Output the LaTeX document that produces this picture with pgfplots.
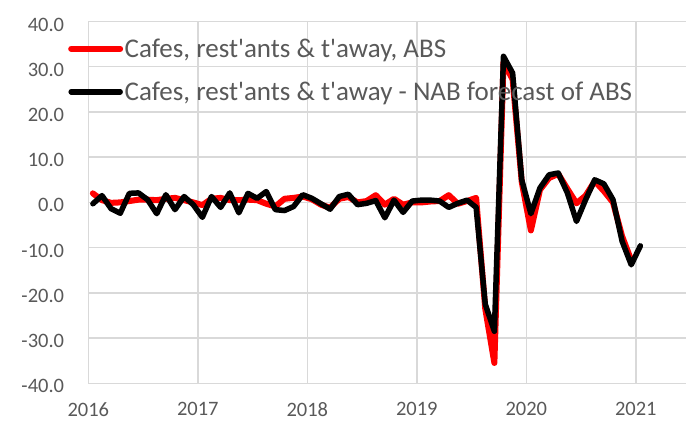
\documentclass[border=0pt]{standalone}
\usepackage{fontspec}
\setmainfont{Carlito}
\newfontfamily\carl{Carlito}
\usepackage{pgfplots}
\usepackage{pgfplotstable}
\pgfplotsset{compat=1.18}
\definecolor{txt}{HTML}{595959}
\definecolor{grd}{HTML}{D9D9D9}
\pgfplotstableread{
i v
0 2.0
1 0.5
2 -0.1
3 0.0
4 0.3
5 0.6
6 0.6
7 0.5
8 0.8
9 1.0
10 0.5
11 0.0
12 -0.6
13 0.8
14 1.0
15 0.5
16 0.5
17 0.6
18 0.5
19 -0.3
20 -0.9
21 0.8
22 1.0
23 1.3
24 0.7
25 -0.5
26 -1.2
27 0.8
28 1.2
29 0.0
30 0.3
31 1.6
32 -0.5
33 0.8
34 -0.5
35 0.0
36 0.0
37 0.2
38 0.3
39 1.6
40 -0.3
41 0.3
42 1.0
43 -23.5
44 -35.5
45 31.0
46 27.2
47 4.5
48 -6.2
49 2.8
50 5.4
51 6.3
52 3.0
53 -0.2
54 1.5
55 4.7
56 2.5
57 0.0
58 -7.5
59 -12.8
}\absdata
\pgfplotstableread{
i v
0 -0.3
1 1.5
2 -1.4
3 -2.4
4 2.0
5 2.1
6 0.6
7 -2.5
8 1.7
9 -1.6
10 1.3
11 -0.5
12 -3.3
13 1.3
14 -1.1
15 2.1
16 -2.3
17 2.0
18 0.9
19 2.4
20 -1.6
21 -1.8
22 -0.9
23 1.7
24 0.9
25 -0.3
26 -1.5
27 1.3
28 1.8
29 -0.5
30 -0.2
31 0.4
32 -3.4
33 0.5
34 -2.2
35 0.3
36 0.5
37 0.5
38 0.3
39 -1.1
40 -0.2
41 0.5
42 -1.1
43 -22.5
44 -28.5
45 32.3
46 28.6
47 5.0
48 -2.5
49 3.2
50 6.1
51 6.5
52 2.1
53 -4.2
54 0.6
55 5.0
56 4.1
57 0.6
58 -8.6
59 -13.8
60 -9.6
}\nabdata
\begin{document}
\begin{tikzpicture}
\begin{axis}[
  scale only axis, width=597.7bp, height=361.8bp,
  at={(0,0)}, anchor=south west,
  xmin=-0.5, xmax=65, ymin=-40, ymax=40,
  xtick={-0.5,11.5,23.5,35.5,47.5,59.5},
  xticklabels={2016,2017,2018,2019,2020,2021},
  ytick={-40,-30,...,40},
  /pgf/number format/assume math mode=true,
  yticklabel style={/pgf/number format/fixed, /pgf/number format/fixed zerofill, /pgf/number format/precision=1, xshift=-24bp, yshift=-3bp},
  tick label style={font=\carl\fontsize{20.5bp}{24bp}\selectfont, text=txt, inner sep=0pt},
  xticklabel style={yshift=-19bp},
  major tick length=0pt,
  grid=major, major grid style={grd, line width=1.5bp},
  axis line style={draw=none},
  legend cell align=left,
  legend style={at={(rel axis cs:-0.034,0.957)}, anchor=north west, draw=none, fill=none,
    font=\carl\fontsize{27bp}{30bp}\selectfont, text=txt, row sep=20bp, inner sep=0pt,
    nodes={inner sep=1.5bp}},
  legend image code/.code={\draw[#1] (0bp,0bp) -- (49bp,0bp);},
]
\addplot[red, line width=6bp, line join=round, line cap=round] table[x=i, y=v] {\absdata};
\addlegendentry{Cafes, rest'ants \& t'away, ABS}
\addplot[black, line width=5.5bp, line join=round, line cap=round] table[x=i, y=v] {\nabdata};
\addlegendentry{Cafes, rest'ants \& t'away - NAB forecast of ABS}
\end{axis}
\pgfresetboundingbox
\path[use as bounding box] (-88.3bp,-44.7bp) rectangle (599.7bp,383.3bp);
\end{tikzpicture}
\end{document}
